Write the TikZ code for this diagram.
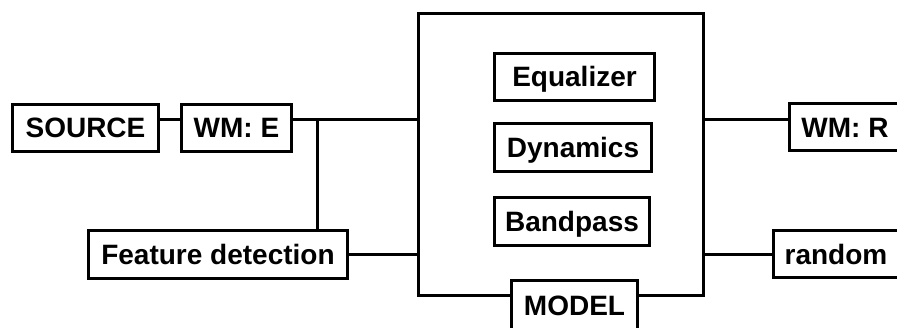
\documentclass[tikz,border=0pt]{standalone}
\usepackage{fontspec}
\setmainfont{Liberation Sans}
\begin{document}
\begin{tikzpicture}[x=1pt,y=-1pt,
  box/.style={draw, line width=3pt, rectangle, inner sep=0pt, fill=white,
    font=\fontsize{28}{30}\bfseries\selectfont, text height=20pt, text depth=0pt},
  wire/.style={line width=3pt}]
\useasboundingbox (0,0) rectangle (897,328);
\clip (0,0) rectangle (897,328);
% main container
\node[draw, line width=3pt, rectangle, inner sep=0pt, minimum width=285pt, minimum height=282pt] (main) at (561,154.5) {};
% boxes
\node[box, minimum width=146pt, minimum height=47pt] (src) at (85.5,128) {SOURCE};
\node[box, minimum width=110pt, minimum height=47pt] (wme) at (236.5,128) {WM: E};
\node[box, minimum width=259pt, minimum height=48pt] (fd) at (218,254.5) {Feature detection};
\node[box, minimum width=160pt, minimum height=47pt] (eq) at (574.5,77) {Equalizer};
\node[box, minimum width=157pt, minimum height=48pt] (dyn) at (573,147.5) {Dynamics};
\node[box, minimum width=155pt, minimum height=48pt] (bp) at (572,221.5) {Bandpass};
\node[box, minimum width=112pt, minimum height=47pt] (wmr) at (845,127.5) {WM: R};
\node[box, minimum width=126pt, minimum height=47pt] (rnd) at (836,254.5) {random};
% connectors
\coordinate (top) at (0,120);
\coordinate (low) at (0,255);
\coordinate (br) at (317,120);
\draw[wire] (src.east |- top) -- (wme.west |- top);
\draw[wire] (wme.east |- top) -- (main.west |- top);
\draw[wire] (br) -- (br |- fd.north);
\draw[wire] (fd.east |- low) -- (main.west |- low);
\draw[wire] (main.east |- top) -- (wmr.west |- top);
\draw[wire] (main.east |- low) -- (rnd.west |- low);
% model label on the bottom edge
\node[box, minimum width=126pt, minimum height=50pt] (model) at (574.5,306) {MODEL};
\end{tikzpicture}
\end{document}
